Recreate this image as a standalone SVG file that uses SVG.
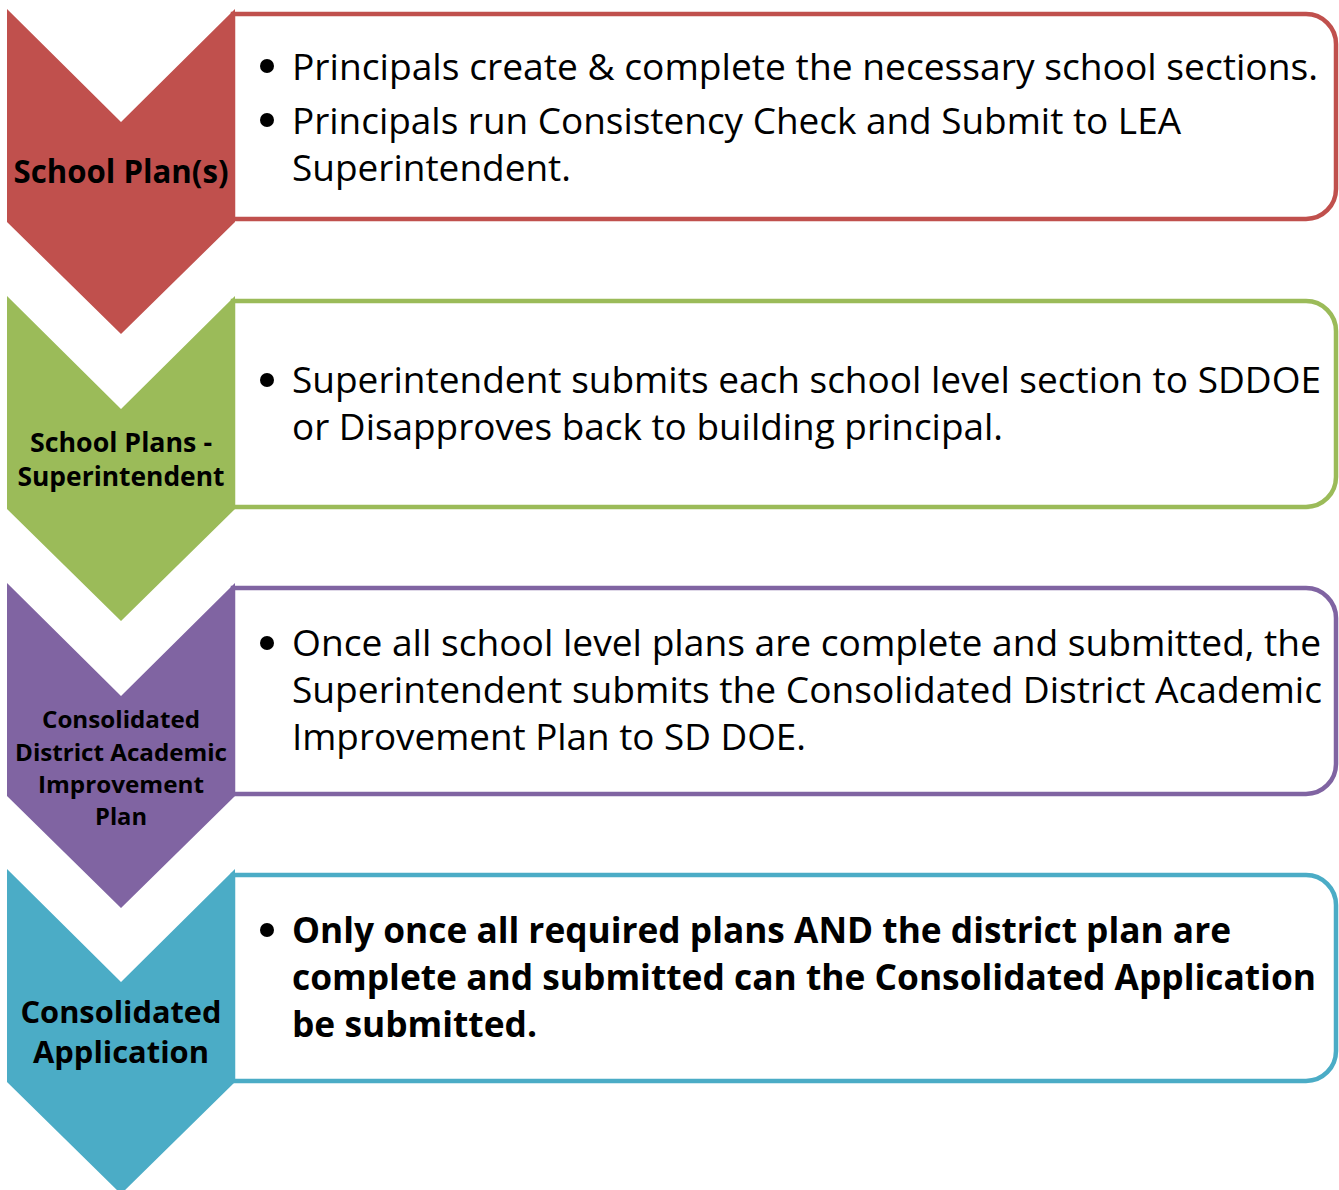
<svg xmlns="http://www.w3.org/2000/svg" width="1339" height="1190" viewBox="0 0 1339 1190">
<style>
.box{fill:#fff;stroke-width:4.5}
.txt{font-family:"Open Sans","Noto Sans",sans-serif;font-size:37px;fill:#000}
.btxt{font-family:"Open Sans","Noto Sans",sans-serif;font-size:35px;font-weight:700;fill:#000}
.lbl{font-family:"Open Sans","Noto Sans",sans-serif;font-weight:700;fill:#000;text-anchor:middle}
.dot{fill:#000}
</style>
<rect width="1339" height="1190" fill="#fff"/>
<g id="connectors"></g>

<g id="step1">
<path class="box" stroke="#C0504D" d="M233,14 H1306 A30,30 0 0 1 1336,44 V189 A30,30 0 0 1 1306,219 H233 Z"/>
<polygon fill="#C0504D" points="7,9 121,122 235,9 235,222 121,334 7,222"/>
<text class="lbl" x="121" y="183" font-size="33" textLength="215" lengthAdjust="spacingAndGlyphs">School Plan(s)</text>
<circle class="dot" cx="267" cy="66" r="7"/>
<text class="txt" x="292" y="80" textLength="1026" lengthAdjust="spacingAndGlyphs">Principals create &amp; complete the necessary school sections.</text>
<circle class="dot" cx="267" cy="120" r="7"/>
<text class="txt" x="292" y="134" textLength="889" lengthAdjust="spacingAndGlyphs">Principals run Consistency Check and Submit to LEA</text>
<text class="txt" x="292" y="181" textLength="279" lengthAdjust="spacingAndGlyphs">Superintendent.</text>
</g>

<g id="step2">
<path class="box" stroke="#9BBB59" d="M233,301 H1306 A30,30 0 0 1 1336,331 V477 A30,30 0 0 1 1306,507 H233 Z"/>
<polygon fill="#9BBB59" points="7,296 121,409 235,296 235,509 121,621 7,509"/>
<text class="lbl" x="121" y="452" font-size="26" textLength="182" lengthAdjust="spacingAndGlyphs">School Plans -</text>
<text class="lbl" x="121" y="486" font-size="26" textLength="207" lengthAdjust="spacingAndGlyphs">Superintendent</text>
<circle class="dot" cx="267" cy="380" r="7"/>
<text class="txt" x="292" y="393" textLength="1029" lengthAdjust="spacingAndGlyphs">Superintendent submits each school level section to SDDOE</text>
<text class="txt" x="292" y="440" textLength="711" lengthAdjust="spacingAndGlyphs">or Disapproves back to building principal.</text>
</g>

<g id="step3">
<path class="box" stroke="#8064A2" d="M233,588 H1306 A30,30 0 0 1 1336,618 V764 A30,30 0 0 1 1306,794 H233 Z"/>
<polygon fill="#8064A2" points="7,583 121,696 235,583 235,796 121,908 7,796"/>
<text class="lbl" x="121" y="728" font-size="24" textLength="158" lengthAdjust="spacingAndGlyphs">Consolidated</text>
<text class="lbl" x="121" y="761" font-size="24" textLength="212" lengthAdjust="spacingAndGlyphs">District Academic</text>
<text class="lbl" x="121" y="793" font-size="24" textLength="166" lengthAdjust="spacingAndGlyphs">Improvement</text>
<text class="lbl" x="121" y="825" font-size="24" textLength="52" lengthAdjust="spacingAndGlyphs">Plan</text>
<circle class="dot" cx="267" cy="643" r="7"/>
<text class="txt" x="292" y="656" textLength="1029" lengthAdjust="spacingAndGlyphs">Once all school level plans are complete and submitted, the</text>
<text class="txt" x="292" y="703" textLength="1030" lengthAdjust="spacingAndGlyphs">Superintendent submits the Consolidated District Academic</text>
<text class="txt" x="292" y="750" textLength="514" lengthAdjust="spacingAndGlyphs">Improvement Plan to SD DOE.</text>
</g>

<g id="step4">
<path class="box" stroke="#4BACC6" d="M233,875 H1306 A30,30 0 0 1 1336,905 V1051 A30,30 0 0 1 1306,1081 H233 Z"/>
<polygon fill="#4BACC6" points="7,869 121,982 235,869 235,1082 121,1194 7,1082"/>
<text class="lbl" x="121" y="1023" font-size="31" textLength="201" lengthAdjust="spacingAndGlyphs">Consolidated</text>
<text class="lbl" x="121" y="1063" font-size="31" textLength="176" lengthAdjust="spacingAndGlyphs">Application</text>
<circle class="dot" cx="267" cy="930" r="7"/>
<text class="btxt" x="292" y="943" textLength="939" lengthAdjust="spacingAndGlyphs">Only once all required plans AND the district plan are</text>
<text class="btxt" x="292" y="990" textLength="1024" lengthAdjust="spacingAndGlyphs">complete and submitted can the Consolidated Application</text>
<text class="btxt" x="292" y="1037" textLength="245" lengthAdjust="spacingAndGlyphs">be submitted.</text>
</g>
</svg>
